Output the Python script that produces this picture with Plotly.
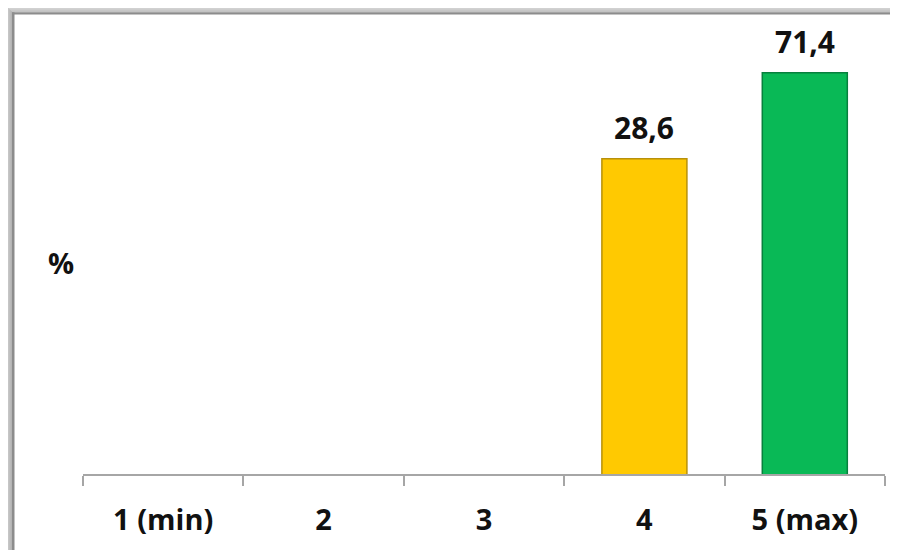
import math
import plotly.graph_objects as go

categories = ["1 (min)", "2", "3", "4", "5 (max)"]
values = [None, None, None, 28.6, 71.4]
bar_colors = ["#FFC901", "#FFC901", "#FFC901", "#FFC901", "#09B956"]
edge_colors = ["#B8900A", "#B8900A", "#B8900A", "#B8900A", "#07803D"]
y_title = "%"

# page has an 8px body margin; work in reference pixel coords and offset
OFF = 8
W, H = 898 - OFF, 550 - OFF
L, R, T, B = 83 - OFF, 13, 41 - OFF, 74
PW, PH = W - L - R, H - T - B

def px_x(px):
    return (px - OFF - L) / PW

def px_y(py):
    return (H - B - (py - OFF)) / PH

FONT = "Open Sans"

fig = go.Figure()
fig.add_trace(go.Bar(
    x=categories, y=values,
    width=0.53,
    marker=dict(color=bar_colors, line=dict(color=edge_colors, width=1.5)),
    hoverinfo="skip",
))

annotations = []
for i, (c, v) in enumerate(zip(categories, values)):
    if v is None:
        continue
    annotations.append(dict(
        x=i, y=math.log10(v), xref="x", yref="y",
        text=f"{v:.1f}".replace(".", ","), showarrow=False,
        yanchor="bottom", yshift=9,
        font=dict(family=FONT, size=30, color="#111111", weight="bold"),
    ))
annotations.append(dict(
    x=px_x(61), y=px_y(264), xref="paper", yref="paper",
    text=y_title, showarrow=False, xanchor="center", yanchor="middle",
    font=dict(family=FONT, size=29, color="#111111", weight="bold"),
))

# frame with soft shadow
shapes = []
def gray(t):
    lo, hi = 0xF6, 0xB4
    g = int(round(lo + (hi - lo) * t))
    return f"rgb({g},{g},{g})"

N = 12
for k in range(N):
    t = k / (N - 1)
    c = gray(t)
    shapes.append(dict(type="rect", xref="paper", yref="paper",
                       x0=px_x(k), x1=px_x(k + 1), y0=px_y(k), y1=px_y(560),
                       fillcolor=c, line=dict(width=0), layer="below"))
    shapes.append(dict(type="rect", xref="paper", yref="paper",
                       x0=px_x(k), x1=px_x(910), y0=px_y(k + 1), y1=px_y(k),
                       fillcolor=c, line=dict(width=0), layer="below"))
shapes.append(dict(type="rect", xref="paper", yref="paper",
                   x0=px_x(12), x1=px_x(14.5), y0=px_y(12), y1=px_y(560),
                   fillcolor="#8C8C8C", line=dict(width=0), layer="below"))
shapes.append(dict(type="rect", xref="paper", yref="paper",
                   x0=px_x(12), x1=px_x(910), y0=px_y(14.5), y1=px_y(12),
                   fillcolor="#8C8C8C", line=dict(width=0), layer="below"))

fig.update_layout(
    width=W, height=H,
    margin=dict(l=L, r=R, t=T, b=B, pad=0),
    paper_bgcolor="white", plot_bgcolor="white",
    showlegend=False,
    annotations=annotations,
    shapes=shapes,
    xaxis=dict(
        type="category", categoryorder="array", categoryarray=categories,
        showline=True, linecolor="#A6A6A6", linewidth=1.5,
        ticks="outside", ticklen=10, tickcolor="#A6A6A6", tickwidth=1.5,
        tickson="boundaries", showgrid=False, zeroline=False,
        tickfont=dict(family=FONT, size=29, color="#111111", weight="bold"),
        ticklabelstandoff=19,
    ),
    yaxis=dict(
        type="log", range=[0, 2], showgrid=False, zeroline=False,
        showticklabels=False, ticks="", showline=False,
    ),
)

fig.write_html("out.html")
